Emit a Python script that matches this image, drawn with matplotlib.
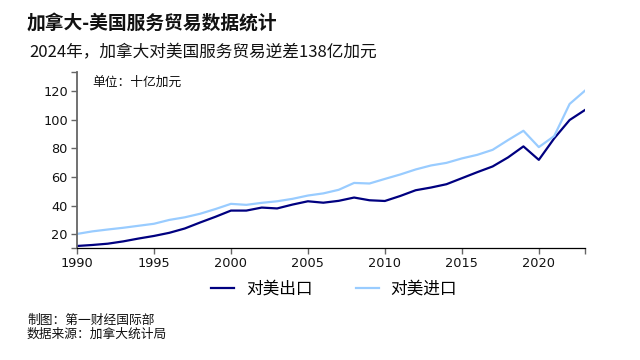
import matplotlib
matplotlib.use("Agg")
import matplotlib.pyplot as plt

plt.rcParams['font.family'] = ['Noto Sans CJK SC', 'DejaVu Sans']

years = list(range(1990, 2024))
exports = [11.8, 12.5, 13.4, 15.0, 17.0, 18.8, 21.0, 24.0, 28.2, 32.2,
           36.5, 36.5, 38.6, 38.0, 40.7, 43.0, 42.0, 43.3, 45.6, 43.7,
           43.2, 46.7, 50.7, 52.6, 54.9, 59.1, 63.3, 67.3, 73.6, 81.3,
           71.9, 86.9, 99.7, 106.7]
imports = [20.2, 22.0, 23.3, 24.5, 25.9, 27.3, 30.0, 31.8, 34.3, 37.6,
           41.2, 40.5, 41.9, 43.0, 44.7, 47.0, 48.5, 51.0, 55.8, 55.4,
           58.6, 61.7, 65.2, 68.0, 69.8, 72.9, 75.4, 78.9, 85.7, 92.2,
           80.8, 88.5, 110.9, 120.2]
series_names = ['对美出口', '对美进口']
xticks = [1990, 1995, 2000, 2005, 2010, 2015, 2020]
yticks = [20, 40, 60, 80, 100, 120]

fig = plt.figure(figsize=(6.4, 3.6), dpi=100)
ax = fig.add_axes([77/640, 1 - 247.7/360, (585 - 77)/640, (247.7 - 72.3)/360])

ax.plot(years, exports, color='#000080', lw=1.6, label=series_names[0])
ax.plot(years, imports, color='#99ccff', lw=1.6, label=series_names[1])

ymin, ymax = 10.6, 133
ax.set_xlim(1990, 2023)
ax.set_ylim(ymin, ymax)

ax.set_xticks(xticks + [2023])
ax.set_xticklabels([str(x) for x in xticks] + [''])
ax.set_yticks([ymin] + yticks + [ymax])
ax.set_yticklabels([''] + [str(y) for y in yticks] + [''])

for lab in ax.get_xticklabels() + ax.get_yticklabels():
    lab.set_family('DejaVu Sans')
    lab.set_fontsize(9.3)
    lab.set_color('#111111')

ax.tick_params(axis='both', direction='out', length=4.5, width=1.0, color='#666666', pad=2)
ax.spines['top'].set_visible(False)
ax.spines['right'].set_visible(False)
ax.spines['left'].set_color('#666666')
ax.spines['left'].set_linewidth(1.3)
ax.spines['bottom'].set_color('#000000')
ax.spines['bottom'].set_linewidth(0.9)

fig.text(27/640, 1 - 23/360, '加拿大-美国服务贸易数据统计', fontsize=13.5,
         fontweight='bold', va='center', ha='left', color='#111111')
fig.text(29/640, 1 - 53/360, '2024年，加拿大对美国服务贸易逆差138亿加元', fontsize=12,
         va='center', ha='left', color='#111111')
fig.text(92/640, 1 - 82/360, '单位：十亿加元', fontsize=9.2,
         va='center', ha='left', color='#111111')

fig.legend(loc='center', bbox_to_anchor=(334/640, 1 - 289/360), ncol=2, frameon=False,
           fontsize=12, handlelength=1.4, handletextpad=0.7, columnspacing=2.6)

fig.text(27/640, 1 - 320/360, '制图：第一财经国际部', fontsize=9.2,
         va='center', ha='left', color='#111111')
fig.text(27/640, 1 - 334/360, '数据来源：加拿大统计局', fontsize=9.2,
         va='center', ha='left', color='#111111')

fig.savefig('out.png', dpi=100, facecolor='white')
